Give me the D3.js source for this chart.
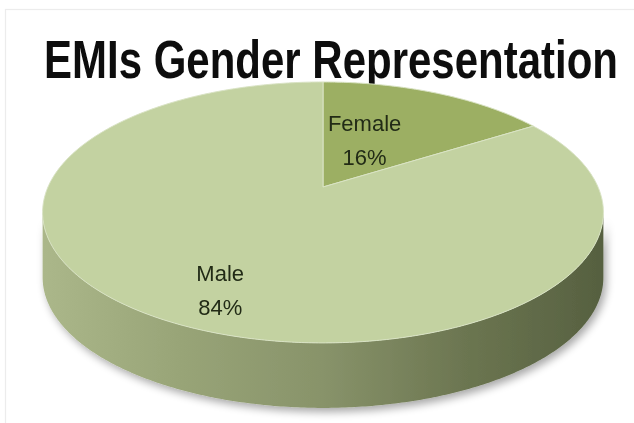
<!DOCTYPE html>
<html>
<head>
<meta charset="utf-8">
<script src="https://cdn.jsdelivr.net/npm/d3@7"></script>
<style>
  html, body { margin: 0; padding: 0; background: #ffffff; }
  svg { display: block; }
</style>
</head>
<body>
<div id="chart"></div>
<script>
// ---- data ----
const title = "EMIs Gender Representation";
const categories = ["Female", "Male"];
const values = [16, 84];
const valueLabels = ["16%", "84%"];

// ---- layout ----
const W = 634, H = 423;
const CX = 323, CY = 187;      // projected centre of the pie's top face
const A = 275, B = 125.5;      // projection scale
const P = 0.195;               // perspective strength
const DEPTH = 65;              // thickness of the pie
const topColors = ["#9caf63", "#c3d2a1"];
const labelSpots = [{ a: 21, r: 0.457 }, { a: 205, r: 0.765 }];

function proj(theta, r, dy) {
  const u = r * Math.sin(theta), v = -r * Math.cos(theta);
  const w = 1 - P * v;
  return [CX + A * u / w, CY + B * v / w + (dy || 0)];
}
function rimPoints(a0, a1, dy) {
  const n = Math.max(2, Math.ceil(Math.abs(a1 - a0) / 0.01));
  return d3.range(n + 1).map(i => proj(a0 + (a1 - a0) * i / n, 1, dy));
}

const svg = d3.select("#chart").append("svg")
  .attr("width", W).attr("height", H);

const defs = svg.append("defs");
const grad = defs.append("linearGradient").attr("id", "sideGrad")
  .attr("gradientUnits", "userSpaceOnUse")
  .attr("x1", CX - A * 1.02).attr("x2", CX + A * 1.02).attr("y1", 0).attr("y2", 0);
[["0%", "#abb78a"], ["25%", "#98a477"], ["50%", "#88936a"], ["75%", "#6c7651"], ["100%", "#566040"]]
  .forEach(([o, c]) => grad.append("stop").attr("offset", o).attr("stop-color", c));

const shadow = defs.append("filter").attr("id", "shadow")
  .attr("x", "-10%").attr("y", "-10%").attr("width", "120%").attr("height", "130%");
shadow.append("feGaussianBlur").attr("in", "SourceAlpha").attr("stdDeviation", 4).attr("result", "b");
shadow.append("feOffset").attr("in", "b").attr("dx", 3).attr("dy", 4).attr("result", "o");
shadow.append("feComponentTransfer").attr("in", "o").attr("result", "s")
  .append("feFuncA").attr("type", "linear").attr("slope", 0.35);
const fm = shadow.append("feMerge");
fm.append("feMergeNode").attr("in", "s");
fm.append("feMergeNode").attr("in", "SourceGraphic");

const blur = defs.append("filter").attr("id", "soft");
blur.append("feGaussianBlur").attr("stdDeviation", 0.5);

// frame
svg.append("rect").attr("x", 5.5).attr("y", 9.5).attr("width", W + 10).attr("height", H + 10)
  .attr("fill", "none").attr("stroke", "#ececec").attr("stroke-width", 1.2);

// title
svg.append("text")
  .attr("x", 44).attr("y", 78)
  .attr("textLength", 574).attr("lengthAdjust", "spacingAndGlyphs")
  .attr("font-family", "'Liberation Sans', Arial, sans-serif")
  .attr("font-weight", "bold").attr("font-size", 54)
  .attr("fill", "#111").attr("filter", "url(#soft)")
  .text(title);

const pie = d3.pie().sort(null).value(d => d)(values);
const line = d3.line();

// side wall (visible front part)
const thA = Math.acos(-P), thB = 2 * Math.PI - thA;
const sideG = svg.append("g").attr("filter", "url(#shadow)");
pie.forEach((s, i) => {
  const a0 = Math.max(s.startAngle, thA), a1 = Math.min(s.endAngle, thB);
  if (a1 <= a0) return;
  const pts = rimPoints(a0, a1, 0).concat(rimPoints(a1, a0, DEPTH));
  sideG.append("path").attr("d", line(pts) + "Z")
    .attr("fill", "url(#sideGrad)");
});

// top faces
const topG = svg.append("g");
pie.forEach((s, i) => {
  const pts = [proj(0, 0)].concat(rimPoints(s.startAngle, s.endAngle, 0));
  topG.append("path").attr("d", line(pts) + "Z")
    .attr("fill", topColors[i])
    .attr("stroke", "#d9e3c4").attr("stroke-width", 1).attr("stroke-linejoin", "round");
});

// labels
const lab = svg.append("g")
  .attr("font-family", "'Liberation Sans', Arial, sans-serif")
  .attr("font-size", 22).attr("fill", "#222c16")
  .attr("text-anchor", "middle").attr("filter", "url(#soft)");
pie.forEach((s, i) => {
  const [x, y] = proj(labelSpots[i].a * Math.PI / 180, labelSpots[i].r);
  lab.append("text").attr("x", x).attr("y", y - 7).text(categories[i]);
  lab.append("text").attr("x", x).attr("y", y + 27).text(valueLabels[i]);
});
</script>
</body>
</html>
